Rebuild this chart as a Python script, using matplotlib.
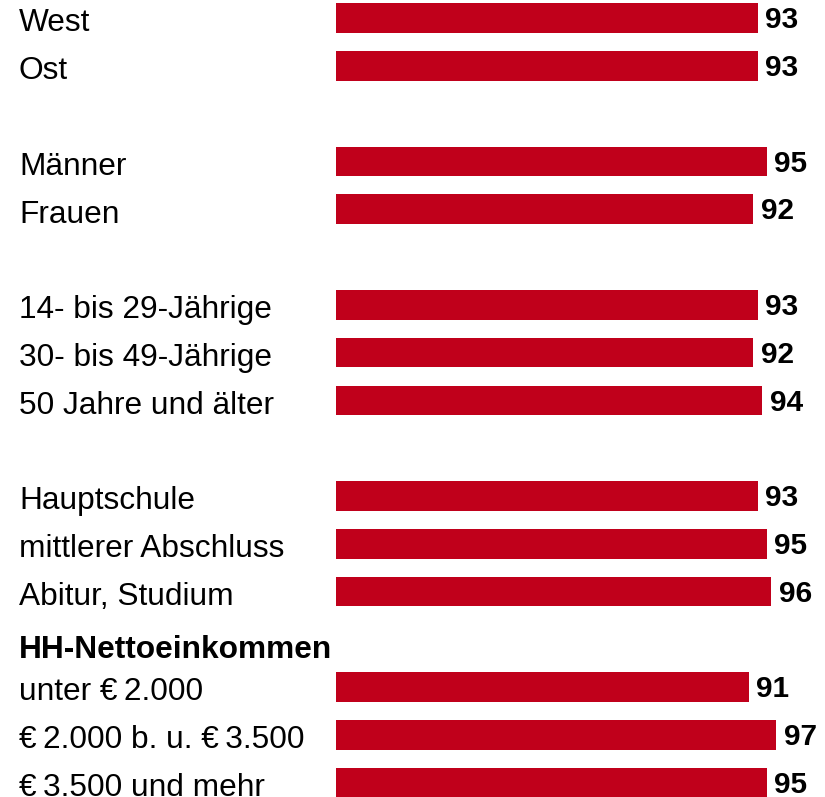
import matplotlib
matplotlib.use("Agg")
import matplotlib.pyplot as plt
import matplotlib.transforms as mtransforms

plt.rcParams['font.family'] = ['Liberation Sans', 'DejaVu Sans']

# rows (None = empty spacer row)
labels = ["West", "Ost", None,
          "Männer", "Frauen", None,
          "14- bis 29-Jährige", "30- bis 49-Jährige", "50 Jahre und älter", None,
          "Hauptschule", "mittlerer Abschluss", "Abitur, Studium", None,
          "unter \u20ac\u20092.000", "\u20ac\u20092.000 b. u. \u20ac\u20093.500", "\u20ac\u20093.500 und mehr"]
values = [93, 93, None,
          95, 92, None,
          93, 92, 94, None,
          93, 95, 96, None,
          91, 97, 95]
header = "HH-Nettoeinkommen"
header_row = 13.4

bar_color = "#c0001b"

fig = plt.figure(figsize=(8.25, 7.97), dpi=100)
ax = fig.add_axes([336 / 825, 0, 489 / 825, 1])

rows = [i for i, v in enumerate(values) if v is not None]
vals = [values[i] for i in rows]
ax.barh(rows, vals, height=0.62, color=bar_color, left=0)

ax.set_xlim(0, 489 / 4.535)
ax.set_ylim(16.3, -0.377)
ax.axis("off")

trans = mtransforms.blended_transform_factory(fig.transFigure, ax.transData)
for i in rows:
    ax.text(19 / 825, i + 0.28, labels[i], transform=trans, fontsize=22.8,
            ha="left", va="baseline", clip_on=False)
    ax.annotate(str(values[i]), xy=(values[i], i + 0.215), xytext=(5.5, 0),
                textcoords="offset points", fontsize=21.5, fontweight="bold",
                ha="left", va="baseline", annotation_clip=False)

ax.text(19 / 825, header_row, header, transform=trans, fontsize=22.8,
        fontweight="bold", ha="left", va="baseline", clip_on=False)

fig.savefig("out.png", dpi=100)
